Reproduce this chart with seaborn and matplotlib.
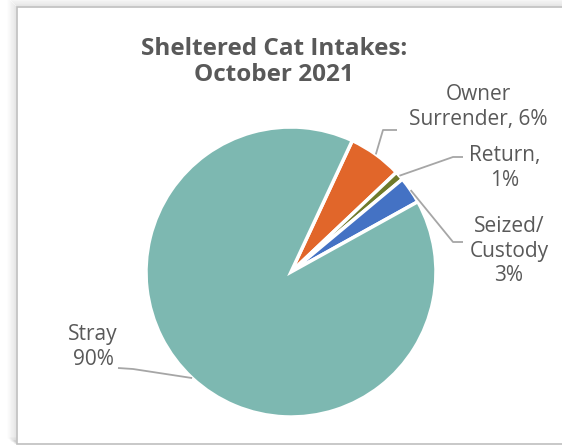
import numpy as np
import matplotlib
matplotlib.use("Agg")
import matplotlib.pyplot as plt
from matplotlib.patches import Rectangle
import seaborn as sns

# ---- data ----
categories = ["Owner Surrender", "Return", "Seized/Custody", "Stray"]
values = [6, 1, 3, 90]
label_texts = ["Owner\nSurrender, 6%", "Return,\n1%", "Seized/\nCustody\n3%", "Stray\n90%"]
colors = ["#E1662A", "#6F7A2A", "#4472C4", "#7DB8B1"]
title = "Sheltered Cat Intakes:\nOctober 2021"

sns.set_theme(style="white")
plt.rcParams["font.family"] = ["Open Sans", "DejaVu Sans"]

W, H = 562, 447
fig = plt.figure(figsize=(W / 100, H / 100), dpi=100)
ax = fig.add_axes([0, 0, 1, 1])

# frame with soft shadow
for i in range(1, 10):
    ax.add_patch(Rectangle((17 - i, 7 - i), 600, 437 + i * 0.3, fill=False,
                           edgecolor="#000000", lw=1.2, alpha=0.05 * (10 - i) / 9 * 1.2,
                           zorder=0))
ax.add_patch(Rectangle((17, 7), 600, 437, facecolor="white", edgecolor="#BFBFBF", lw=1.2, zorder=1))

# pie (y axis inverted => counterclock True gives clockwise on screen)
cx, cy, r = 291, 272, 145
start = -65
wedges, _ = ax.pie(values, colors=colors, startangle=start, counterclock=True,
                   center=(cx, cy), radius=r, frame=True,
                   wedgeprops=dict(edgecolor="white", linewidth=2.5))
for w in wedges:
    w.set_zorder(3)
ax.set_xlim(0, W)
ax.set_ylim(H, 0)
ax.set_aspect("equal")
ax.axis("off")

ax.text(274, 62, title, ha="center", va="center", fontsize=17.5, fontweight="bold",
        color="#595959", linespacing=1.08, zorder=5)

lc = "#A6A6A6"
tc = "#595959"
# label positions and leader elbows (screen pixels)
text_pos = [(478, 107), (505, 168), (509, 251), (93, 347)]
elbows = [[(383, 130), (397, 130)], [(453, 157), (463, 157)],
          [(453, 242), (463, 242)], [(133, 369), (118, 368)]]
for w, txt, (tx, ty), elb in zip(wedges, label_texts, text_pos, elbows):
    mid = np.deg2rad((w.theta1 + w.theta2) / 2)
    px, py = cx + r * np.cos(mid), cy + r * np.sin(mid)
    xs = [px] + [e[0] for e in elb]
    ys = [py] + [e[1] for e in elb]
    ax.plot(xs, ys, color=lc, lw=1.3, zorder=4, solid_capstyle="butt")
    ax.text(tx, ty, txt, ha="center", va="center", fontsize=15, color=tc,
            linespacing=1.2, zorder=5)

fig.savefig("out.png", dpi=100)
